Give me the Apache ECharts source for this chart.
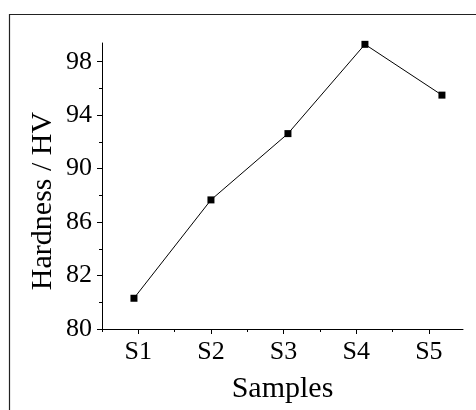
<!DOCTYPE html>
<html>
<head>
<meta charset="utf-8">
<script src="https://cdn.jsdelivr.net/npm/echarts@6/dist/echarts.min.js"></script>
<style>
  html, body { margin: 0; padding: 0; background: #fff; }
  #chart { width: 476px; height: 410px; }
</style>
</head>
<body>
<div id="chart"></div>
<script>
var categories = ['S1', 'S2', 'S3', 'S4', 'S5'];
// points sit slightly off the category ticks in the original figure
var xPos = [0.94, 2.0, 3.06, 4.12, 5.18];
var hardness = [80.3, 87.66, 92.62, 99.3, 95.5];
// bottom tick is drawn as "80" though the scale below 82 is compressed
var yMajor = [78, 82, 86, 90, 94, 98];
var yMinor = [80, 84, 88, 92, 96];
var yLabelText = { 78: '80' };
var yTitle = 'Hardness / HV';

var serif = '"Liberation Serif", "Times New Roman", serif';
var xMajor = categories.map(function (c, i) { return i + 1; });
var xMinor = [0.5, 1.5, 2.5, 3.5, 4.5];

var seriesData = xPos.map(function (x, i) { return [x, hardness[i]]; });

var axisLine = { show: true, lineStyle: { color: '#000', width: 1 } };

var option = {
    animation: false,
    grid: { left: 102, top: 43, right: 13, bottom: 81 },
    graphic: [{
        type: 'rect',
        shape: { x: 9.5, y: 14.5, width: 600, height: 600 },
        style: { fill: 'none', stroke: '#222', lineWidth: 1.2 },
        silent: true
    }, {
        // y axis title, placed by hand since it sits lower than the axis middle
        type: 'text',
        x: 43,
        y: 201,
        rotation: Math.PI / 2,
        style: {
            text: yTitle,
            font: '30px ' + serif,
            fill: '#000',
            align: 'center',
            verticalAlign: 'middle'
        },
        silent: true
    }],
    xAxis: [{
        type: 'value',
        min: 0.5,
        max: 5.47,
        name: 'Samples',
        nameLocation: 'middle',
        nameGap: 45,
        nameTextStyle: { fontFamily: serif, fontSize: 30, color: '#000' },
        axisLine: axisLine,
        axisTick: { show: true, length: 5, customValues: xMajor, lineStyle: { color: '#000' } },
        axisLabel: {
            customValues: xMajor,
            fontFamily: serif, fontSize: 26, color: '#000', margin: 10,
            formatter: function (v) { return categories[Math.round(v) - 1]; }
        },
        splitLine: { show: false }
    }, {
        type: 'value',
        min: 0.5,
        max: 5.47,
        position: 'bottom',
        axisLine: { show: false },
        axisTick: { show: true, length: 3, customValues: xMinor, lineStyle: { color: '#000' } },
        axisLabel: { show: false },
        splitLine: { show: false }
    }],
    yAxis: [{
        type: 'value',
        min: 78,
        max: 99.4,
        axisLine: axisLine,
        axisTick: { show: true, length: 5, customValues: yMajor, lineStyle: { color: '#000' } },
        axisLabel: {
            customValues: yMajor,
            fontFamily: serif, fontSize: 26, color: '#000', margin: 10,
            formatter: function (v) { return yLabelText[v] || String(v); }
        },
        splitLine: { show: false }
    }, {
        type: 'value',
        min: 78,
        max: 99.4,
        position: 'left',
        axisLine: { show: false },
        axisTick: { show: true, length: 3, customValues: yMinor, lineStyle: { color: '#000' } },
        axisLabel: { show: false },
        splitLine: { show: false }
    }],
    series: [{
        type: 'line',
        data: seriesData,
        symbol: 'rect',
        symbolSize: 7,
        lineStyle: { color: '#000', width: 1 },
        itemStyle: { color: '#000' }
    }]
};

var myChart = echarts.init(document.getElementById('chart'));
myChart.setOption(option);
</script>
</body>
</html>
